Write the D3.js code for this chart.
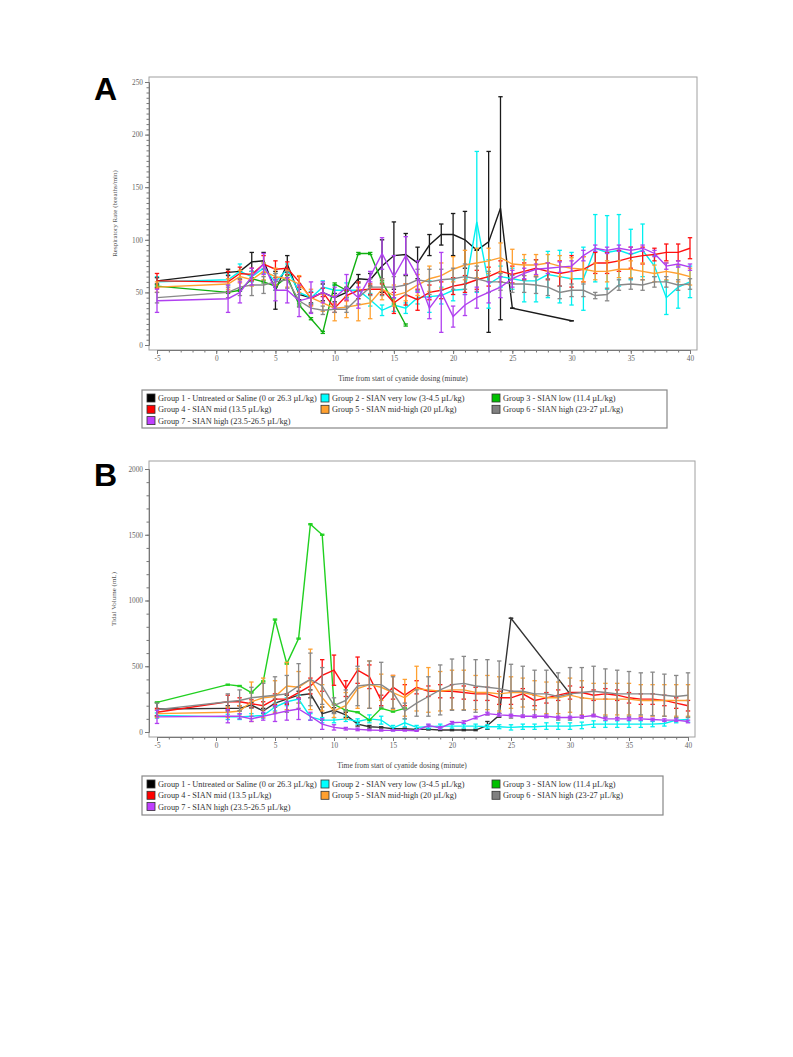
<!DOCTYPE html>
<html><head><meta charset="utf-8">
<script src="https://cdn.jsdelivr.net/npm/d3@7"></script>
<style>body{margin:0;background:#fff}svg{display:block}</style>
</head><body>
<svg id="chart" width="793" height="1057"></svg>
<script>
// ---------- DATA ----------
const times = [-5,1,2,3,4,5,6,7,8,9,10,11,12,13,14,15,16,17,18,19,20,21,22,23,24,25,26,27,28,29,30,31,32,33,34,35,36,37,38,39,40];
const groupNames = [
  "Group 1 - Untreated or Saline (0 or 26.3 \u00b5L/kg)",
  "Group 2 - SIAN very low (3-4.5 \u00b5L/kg)",
  "Group 3 - SIAN low (11.4 \u00b5L/kg)",
  "Group 4 - SIAN mid (13.5 \u00b5L/kg)",
  "Group 5 - SIAN mid-high (20 \u00b5L/kg)",
  "Group 6 - SIAN high (23-27 \u00b5L/kg)",
  "Group 7 - SIAN high (23.5-26.5 \u00b5L/kg)"
];
const groupColors = ["#1a1a1a","#00f0f0","#10b010","#ff1010","#ffa030","#888888","#b040f0"];
const rrTicks = [0,50,100,150,200,250];
const tvTicks = [0,500,1000,1500,2000];
const xTicks = [-5,0,5,10,15,20,25,30,35,40];

// Panel A: respiratory rate (breaths/min), aligned with times (null = no value)
const rrG1 = [61,69,70,79,80,52,77,48,45,50,45,50,63,62,75,85,86,78,95,105,105,100,90,98,130,35,null,null,null,null,23,null,null,null,null,null,null,null,null,null,null];
const rrG2 = [60,62,70,65,73,60,72,50,45,55,52,52,52,43,33,38,35,45,46,47,52,53,117,58,65,63,61,61,67,65,63,63,92,88,90,86,90,75,45,55,60];
const rrG3 = [56,50,52,63,60,56,65,38,25,12,58,52,87,87,60,40,19,null,null,null,null,null,null,null,null,null,null,null,null,null,null,null,null,null,null,null,null,null,null,null,null];
const rrG4 = [61,60,68,67,77,72,73,60,44,50,35,47,52,53,53,40,48,43,50,52,56,58,62,65,70,67,70,73,70,68,70,72,78,78,80,83,85,86,88,88,92];
const rrG5 = [55,58,65,62,70,65,63,58,45,40,35,36,38,40,53,47,50,57,63,66,72,76,78,80,83,77,76,76,78,75,73,72,70,70,72,72,70,68,70,68,65];
const rrG6 = [45,50,55,57,57,60,62,42,35,33,34,34,45,55,55,55,57,62,60,62,63,65,63,60,60,58,58,57,55,50,52,52,47,48,57,58,57,60,60,57,58];
const rrG7 = [42,44,50,65,77,52,52,42,45,50,45,55,45,65,87,65,85,65,35,50,27,38,45,50,55,63,68,72,73,74,75,85,92,90,92,90,92,87,75,77,74];
// Panel A error half-widths
const rrErrG1 = [3,3,0,9,8,18,8,5,5,8,4,5,4,6,25,32,20,15,10,10,20,27,0,86,106,0,null,null,null,null,0,null,null,null,null,null,null,null,null,null,null];
const rrErrG2 = [5,5,7,5,5,8,5,8,6,6,5,7,8,6,5,6,5,6,15,8,10,5,67,23,10,10,20,20,22,25,25,30,32,35,34,24,25,10,16,20,15];
const rrErrG3 = [1,1,1,1,1,1,1,1,1,1,1,1,1,1,1,1,1,null,null,null,null,null,null,null,null,null,null,null,null,null,null,null,null,null,null,null,null,null,null,null,null];
const rrErrG4 = [7,10,6,6,8,8,6,5,6,4,4,5,8,5,5,10,10,10,7,8,8,8,9,9,10,8,8,8,8,12,15,12,10,10,10,10,8,6,8,8,10];
const rrErrG5 = [5,5,6,6,8,8,8,8,8,8,12,10,15,15,10,10,8,10,12,12,12,14,14,12,14,14,10,10,8,10,10,12,8,10,8,8,8,8,8,8,8];
const rrErrG6 = [5,5,8,10,8,8,8,6,4,4,3,3,6,8,8,10,10,10,12,10,10,12,12,10,8,8,8,8,8,6,6,6,3,6,5,5,5,5,5,5,5];
const rrErrG7 = [11,13,10,8,10,10,12,15,15,10,10,12,10,5,15,20,18,15,10,38,10,10,10,10,10,8,5,5,5,5,5,5,3,3,3,3,3,3,3,3,3];

// Panel B: tidal volume (mL)
const tvG1 = [175,180,180,205,160,220,250,280,290,140,165,130,60,40,35,25,25,20,20,15,15,15,15,50,127,865,null,null,null,null,290,null,null,null,null,null,null,null,null,null,null];
const tvG2 = [125,115,115,120,125,190,230,250,115,90,90,100,80,100,90,30,70,35,40,45,45,45,45,40,40,35,40,40,45,45,45,50,60,60,60,60,60,60,65,90,95];
const tvG3 = [225,360,350,300,385,855,520,710,1580,1500,210,165,150,90,180,155,180,null,null,null,null,null,null,null,null,null,null,null,null,null,null,null,null,null,null,null,null,null,null,null,null];
const tvG4 = [150,230,230,215,200,250,250,300,350,430,470,330,470,420,240,340,280,340,310,310,310,300,290,290,260,260,290,240,260,280,300,300,280,290,280,260,250,250,240,220,200];
const tvG5 = [140,150,160,230,260,270,350,340,400,260,160,200,330,360,340,300,260,330,320,310,320,320,300,300,290,300,300,280,260,260,280,260,250,250,250,250,240,240,240,240,240];
const tvG6 = [170,230,240,260,270,280,290,350,400,350,200,240,350,360,360,300,160,220,270,320,360,370,350,340,330,310,310,290,290,270,290,300,310,300,290,290,290,290,280,270,280];
const tvG7 = [115,120,120,100,120,140,160,175,120,60,35,25,20,15,12,12,12,10,50,30,70,75,110,140,130,125,120,120,120,110,110,115,125,100,100,100,100,95,90,90,80];
// Panel B error half-widths
const tvErrG1 = [50,20,20,20,20,30,30,30,30,50,20,20,15,10,5,5,5,5,5,5,5,5,5,30,15,0,null,null,null,null,0,null,null,null,null,null,null,null,null,null,null];
const tvErrG2 = [20,20,20,20,20,30,30,30,25,20,20,20,20,30,30,20,30,15,15,15,15,15,15,15,15,20,20,20,25,25,25,25,25,25,25,25,25,20,20,20,20];
const tvErrG3 = [4,4,4,4,4,4,4,4,4,4,4,4,4,4,4,4,4,null,null,null,null,null,null,null,null,null,null,null,null,null,null,null,null,null,null,null,null,null,null,null,null];
const tvErrG4 = [30,50,30,30,30,40,40,40,60,120,115,60,100,90,40,90,80,50,40,50,50,50,50,50,50,50,40,40,40,40,50,40,40,40,40,40,40,40,40,40,40];
const tvErrG5 = [30,40,40,150,150,120,180,120,230,100,50,100,150,180,100,130,140,170,170,150,150,150,130,130,130,120,110,110,120,120,130,130,120,120,120,120,120,120,120,120,120];
const tvErrG6 = [50,60,80,80,100,140,140,170,200,140,60,80,150,180,170,120,60,100,150,190,195,205,200,210,210,205,190,180,180,180,200,190,190,180,180,170,160,165,160,160,170];
const tvErrG7 = [50,50,20,20,30,60,70,80,30,40,20,10,10,5,5,5,5,5,10,10,10,10,10,10,10,10,10,10,10,10,10,10,10,10,10,10,10,10,10,10,10];

// ---------- DRAW ----------
const svg = d3.select("#chart");
const serif = "'Liberation Serif','DejaVu Serif',serif";
const plain = d => String(d);

function drawPanel(cfg){
  const g = svg.append("g");
  const x = d3.scaleLinear().domain([-5,40]).range([cfg.x0, cfg.x1]);
  const y = d3.scaleLinear().domain(cfg.yDomain).range([cfg.y0, cfg.y1]);

  g.append("rect").attr("x",cfg.fl).attr("y",cfg.ft).attr("width",cfg.fr-cfg.fl).attr("height",cfg.fb-cfg.ft)
    .attr("fill","#fff").attr("stroke","#a0a0a0").attr("stroke-width",1);

  // y axis
  const ya = g.append("g").attr("transform",`translate(${cfg.fl},0)`);
  ya.call(d3.axisLeft(y).tickValues(d3.range(cfg.yDomain[0], cfg.yDomain[1]+0.001, cfg.yMinor)).tickSize(2.5).tickFormat(""));
  ya.call(g2=>g2.select(".domain").remove());
  const yb = g.append("g").attr("transform",`translate(${cfg.fl},0)`);
  yb.call(d3.axisLeft(y).tickValues(cfg.yTicks).tickSize(4).tickPadding(2).tickFormat(plain));
  [ya,yb].forEach(a=>{a.selectAll("line").attr("stroke","#777");a.select(".domain").attr("stroke","#777");});
  yb.selectAll("text").attr("font-family",serif).attr("font-size",7.3).attr("fill","#666");

  // x axis
  const xa = g.append("g").attr("transform",`translate(0,${cfg.fb})`);
  xa.call(d3.axisBottom(x).tickValues(d3.range(-5,40.001,1)).tickSize(2.5).tickFormat(""));
  xa.call(g2=>g2.select(".domain").remove());
  const xb = g.append("g").attr("transform",`translate(0,${cfg.fb})`);
  xb.call(d3.axisBottom(x).tickValues(xTicks).tickSize(4).tickPadding(2).tickSizeOuter(0).tickFormat(plain));
  [xa,xb].forEach(a=>{a.selectAll("line").attr("stroke","#777");a.select(".domain").attr("stroke","#777");});
  xb.selectAll("text").attr("font-family",serif).attr("font-size",7.3).attr("fill","#666");

  // titles
  g.append("text").attr("transform",`translate(${cfg.ytx},${(cfg.ft+cfg.fb)/2}) rotate(-90)`)
    .attr("text-anchor","middle").attr("font-family",serif).attr("font-size",7).attr("fill","#555").text(cfg.yTitle);
  g.append("text").attr("x",(cfg.fl+cfg.fr)/2-20).attr("y",cfg.xty).attr("text-anchor","middle")
    .attr("font-family",serif).attr("font-size",7.5).attr("fill","#444").text("Time from start of cyanide dosing (minute)");
  g.append("text").attr("x",cfg.lx).attr("y",cfg.ly).attr("font-family","'Liberation Sans',Arial,sans-serif")
    .attr("font-weight","bold").attr("font-size",32).attr("fill","#000").text(cfg.letter);

  const clip = "clip"+cfg.letter;
  g.append("clipPath").attr("id",clip).append("rect").attr("x",cfg.fl).attr("y",cfg.ft).attr("width",cfg.fr-cfg.fl).attr("height",cfg.fb-cfg.ft);
  const plot = g.append("g").attr("clip-path",`url(#${clip})`);
  const line = d3.line().x(d=>x(d.t)).y(d=>y(d.v));

  cfg.series.forEach((vals,i)=>{
    const pts = times.map((t,k)=>({t, v:vals[k], e:cfg.errs[i][k]})).filter(d=>d.v!=null);
    const col = cfg.colors[i];
    const sg = plot.append("g");
    sg.selectAll("line.eb").data(pts.filter(d=>d.e!=null)).join("line")
      .attr("x1",d=>x(d.t)).attr("x2",d=>x(d.t)).attr("y1",d=>y(d.v-d.e)).attr("y2",d=>y(d.v+d.e))
      .attr("stroke",col).attr("stroke-width",1.3);
    ["lo","hi"].forEach(s=>{
      sg.selectAll("line.c"+s).data(pts.filter(d=>d.e!=null)).join("line")
        .attr("x1",d=>x(d.t)-2.2).attr("x2",d=>x(d.t)+2.2)
        .attr("y1",d=>y(s==="lo"?d.v-d.e:d.v+d.e)).attr("y2",d=>y(s==="lo"?d.v-d.e:d.v+d.e))
        .attr("stroke",col).attr("stroke-width",1.3);
    });
    sg.append("path").datum(pts).attr("d",line).attr("fill","none").attr("stroke",col).attr("stroke-width",1.4);
  });

  // legend
  const lg = g.append("g");
  lg.append("rect").attr("x",cfg.lgx).attr("y",cfg.lgy).attr("width",cfg.lgw).attr("height",cfg.lgh)
    .attr("fill","#fff").attr("stroke","#888").attr("stroke-width",1.2);
  const colX = [cfg.lgx+5, cfg.lgx+179, cfg.lgx+350];
  groupNames.forEach((nm,i)=>{
    const cx = colX[i%3], cy = cfg.lgy+4+Math.floor(i/3)*11.3;
    lg.append("rect").attr("x",cx).attr("y",cy).attr("width",8).attr("height",8)
      .attr("fill",cfg.legendColors[i]).attr("stroke","#333").attr("stroke-width",0.8);
    lg.append("text").attr("x",cx+11).attr("y",cy+7).attr("font-family",serif).attr("font-size",8.3)
      .attr("fill","#333").text(nm);
  });
}

const legendColors = ["#000000","#00ffff","#00c000","#ff0000","#ffa030","#808080","#c040ff"];

drawPanel({letter:"A", x0:157, x1:690, yDomain:[0,250], y0:345, y1:82,
  fl:149, fr:697, ft:77, fb:350, yTicks:rrTicks, yMinor:5,
  yTitle:"Respiratory Rate (breaths/min)", ytx:117, xty:381, lx:94, ly:100,
  series:[rrG1,rrG2,rrG3,rrG4,rrG5,rrG6,rrG7], errs:[rrErrG1,rrErrG2,rrErrG3,rrErrG4,rrErrG5,rrErrG6,rrErrG7],
  colors:groupColors, legendColors,
  lgx:142, lgy:390, lgw:525, lgh:38});

drawPanel({letter:"B", x0:157, x1:688, yDomain:[0,2000], y0:732, y1:469,
  fl:149, fr:695, ft:461, fb:737, yTicks:tvTicks, yMinor:100,
  yTitle:"Tidal Volume (mL)", ytx:116, xty:768, lx:94, ly:486,
  series:[tvG1,tvG2,tvG3,tvG4,tvG5,tvG6,tvG7], errs:[tvErrG1,tvErrG2,tvErrG3,tvErrG4,tvErrG5,tvErrG6,tvErrG7],
  colors:["#333333","#00f0f0","#20d020","#ff1010","#ffa030","#888888","#b040f0"], legendColors,
  lgx:142, lgy:776, lgw:521, lgh:39});
</script>
</body></html>
